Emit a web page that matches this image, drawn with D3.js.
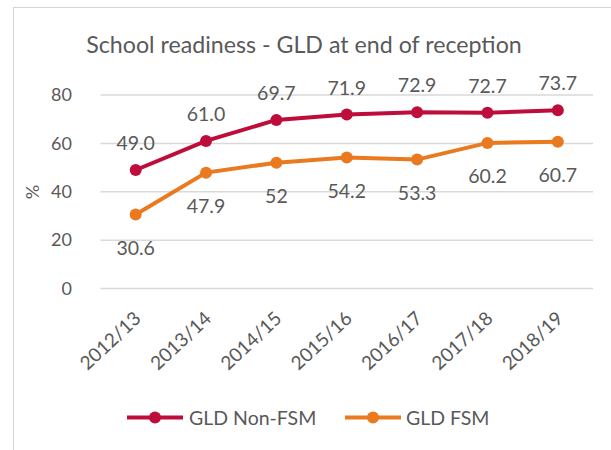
<!DOCTYPE html>
<html><head><meta charset="utf-8">
<script src="https://cdn.jsdelivr.net/npm/d3@7"></script>
<style>body{margin:0;background:#fff;} svg{display:block;}</style>
</head><body>
<script>
const categories = ["2012/13","2013/14","2014/15","2015/16","2016/17","2017/18","2018/19"];
const nonFSM = [49.0, 61.0, 69.7, 71.9, 72.9, 72.7, 73.7];
const fsm = [30.6, 47.9, 52, 54.2, 53.3, 60.2, 60.7];
const nonFSMLabels = ["49.0","61.0","69.7","71.9","72.9","72.7","73.7"];
const fsmLabels = ["30.6","47.9","52","54.2","53.3","60.2","60.7"];
const yTicks = [0,20,40,60,80];
const seriesNames = ["GLD Non-FSM","GLD FSM"];
const colors = ["#BF0D3B","#E97A1F"];

const W=611,H=450;
const font = "Lato, 'Open Sans', sans-serif";
const textColor = "#595959";
const svg = d3.select("body").append("svg").attr("width",W).attr("height",H);

// frame
svg.append("line").attr("x1",13).attr("x2",W).attr("y1",7.5).attr("y2",7.5).attr("stroke","#d4d4d4");
svg.append("line").attr("x1",13.5).attr("x2",13.5).attr("y1",7).attr("y2",H).attr("stroke","#d4d4d4");

svg.append("text").attr("x",304).attr("y",53).attr("text-anchor","middle")
  .attr("font-family",font).attr("font-size",23.2).attr("fill",textColor)
  .text("School readiness - GLD at end of reception");

const x = d3.scalePoint().domain(categories).range([100.5,593]).padding(0.5);
const y = d3.scaleLinear().domain([0,80]).range([288.5,95]);

// gridlines
svg.append("g").selectAll("line").data(yTicks).join("line")
  .attr("x1",100.5).attr("x2",593).attr("y1",d=>y(d)).attr("y2",d=>y(d))
  .attr("stroke","#d9d9d9").attr("stroke-width",1.5);

// y axis labels
const yAxis = d3.axisLeft(y).tickValues(yTicks).tickSize(0).tickPadding(0);
const gy = svg.append("g").attr("transform","translate(72,0)").call(yAxis);
gy.select(".domain").remove();
gy.selectAll("text").attr("font-family",font).attr("font-size",18).attr("fill",textColor);

svg.append("text").attr("transform","translate(39,192) rotate(-90)").attr("text-anchor","middle")
  .attr("font-family",font).attr("font-size",18).attr("fill",textColor).text("%");

// x axis labels
const xAxis = d3.axisBottom(x).tickSize(0).tickPadding(0);
const gx = svg.append("g").attr("transform","translate(0,300)").call(xAxis);
gx.select(".domain").remove();
gx.selectAll("text").attr("font-family",font).attr("font-size",19).attr("fill",textColor)
  .attr("text-anchor","end").attr("dy",0)
  .attr("transform","translate(6,20) rotate(-43)");

const line = d3.line().x((d,i)=>x(categories[i])).y(d=>y(d));
const series = [
  {vals:nonFSM, labels:nonFSMLabels, color:colors[0], off:-20},
  {vals:fsm, labels:fsmLabels, color:colors[1], off:40.5}
];
series.forEach(s=>{
  svg.append("path").datum(s.vals).attr("d",line).attr("fill","none")
    .attr("stroke",s.color).attr("stroke-width",4);
  svg.append("g").selectAll("circle").data(s.vals).join("circle")
    .attr("cx",(d,i)=>x(categories[i])).attr("cy",d=>y(d)).attr("r",6).attr("fill",s.color);
  svg.append("g").selectAll("text").data(s.vals).join("text")
    .attr("x",(d,i)=>x(categories[i])).attr("y",d=>y(d)+s.off).attr("text-anchor","middle")
    .attr("font-family",font).attr("font-size",19.5).attr("fill",textColor)
    .text((d,i)=>s.labels[i]);
});

// legend
const leg = [{x0:127,tx:189},{x0:345,tx:406}];
leg.forEach((l,i)=>{
  const g = svg.append("g");
  g.append("line").attr("x1",l.x0).attr("x2",l.x0+56).attr("y1",417.5).attr("y2",417.5)
    .attr("stroke",colors[i]).attr("stroke-width",4);
  g.append("circle").attr("cx",l.x0+28).attr("cy",417.5).attr("r",6).attr("fill",colors[i]);
  g.append("text").attr("x",l.tx).attr("y",425).attr("font-family",font).attr("font-size",19.5)
    .attr("fill",textColor).text(seriesNames[i]);
});
</script>
</body></html>
